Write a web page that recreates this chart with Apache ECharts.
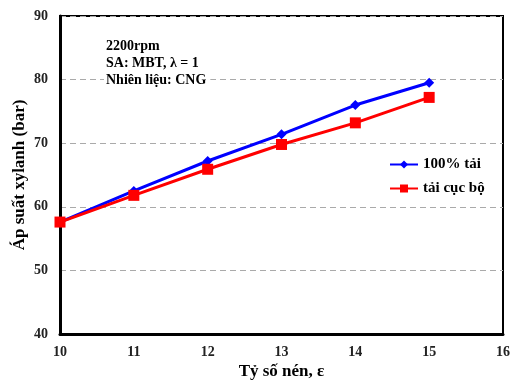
<!DOCTYPE html>
<html>
<head>
<meta charset="utf-8">
<script src="https://cdn.jsdelivr.net/npm/echarts@6/dist/echarts.min.js"></script>
<style>html,body{margin:0;padding:0;background:#fff}#c{width:511px;height:386px}</style>
</head>
<body>
<div id="c"></div>
<script>
const ratios = [10, 11, 12, 13, 14, 15];
const fullLoad = [57.6, 62.5, 67.2, 71.4, 76.0, 79.5];
const partLoad = [57.6, 61.8, 65.9, 69.8, 73.2, 77.2];
const seriesNames = ['100% tải', 'tải cục bộ'];
const noteLines = ['2200rpm', 'SA: MBT, λ = 1', 'Nhiên liệu: CNG'];

const font = '"Liberation Serif", "Times New Roman", serif';
const chart = echarts.init(document.getElementById('c'));
chart.setOption({
  animation: false,
  backgroundColor: '#fff',
  grid: { left: 60, right: 8, top: 16, bottom: 52, show: true, borderColor: '#000', borderWidth: 2,
          containLabel: false, outerBoundsMode: 'none' },
  xAxis: {
    type: 'value', min: 10, max: 16, interval: 1,
    name: 'Tỷ số nén, ε', nameLocation: 'middle', nameGap: 29, nameMoveOverlap: false,
    nameTextStyle: { fontFamily: font, fontWeight: 'bold', fontSize: 17, color: '#000' },
    axisLine: { show: true, lineStyle: { color: '#000', width: 3 } },
    axisTick: { show: false },
    axisLabel: { fontFamily: font, fontWeight: 'bold', fontSize: 14, color: '#222', margin: 11 },
    splitLine: { show: false }
  },
  yAxis: {
    type: 'value', min: 40, max: 90, interval: 10,
    name: 'Áp suất xylanh (bar)', nameLocation: 'middle', nameGap: 32, nameMoveOverlap: false,
    nameTextStyle: { fontFamily: font, fontWeight: 'bold', fontSize: 17, color: '#000' },
    axisLine: { show: true, lineStyle: { color: '#000', width: 3 } },
    axisTick: { show: false },
    axisLabel: { fontFamily: font, fontWeight: 'bold', fontSize: 14, color: '#222', margin: 12 },
    splitLine: { show: true, lineStyle: { color: '#aaa', type: [6, 4], width: 1 } }
  },
  legend: {
    orient: 'vertical', left: 384, top: 152, itemWidth: 28, itemHeight: 10, itemGap: 9,
    textStyle: { fontFamily: font, fontWeight: 'bold', fontSize: 15, color: '#000' },
    data: seriesNames
  },
  graphic: [{
    type: 'text', left: 104, top: 36, z: 10,
    style: {
      text: noteLines.join('\n'), fontFamily: font, fontWeight: 'bold', fontSize: 14,
      lineHeight: 17, fill: '#000', backgroundColor: '#fff', padding: [2, 4, 2, 2]
    }
  }],
  series: [
    {
      name: seriesNames[0], type: 'line', data: ratios.map((r, i) => [r, fullLoad[i]]),
      symbol: 'diamond', symbolSize: 10, z: 3,
      lineStyle: { color: '#0000ff', width: 3 }, itemStyle: { color: '#0000ff' }
    },
    {
      name: seriesNames[1], type: 'line', data: ratios.map((r, i) => [r, partLoad[i]]),
      symbol: 'rect', symbolSize: 11, z: 4,
      lineStyle: { color: '#ff0000', width: 3 }, itemStyle: { color: '#ff0000' }
    }
  ]
});
</script>
</body>
</html>
